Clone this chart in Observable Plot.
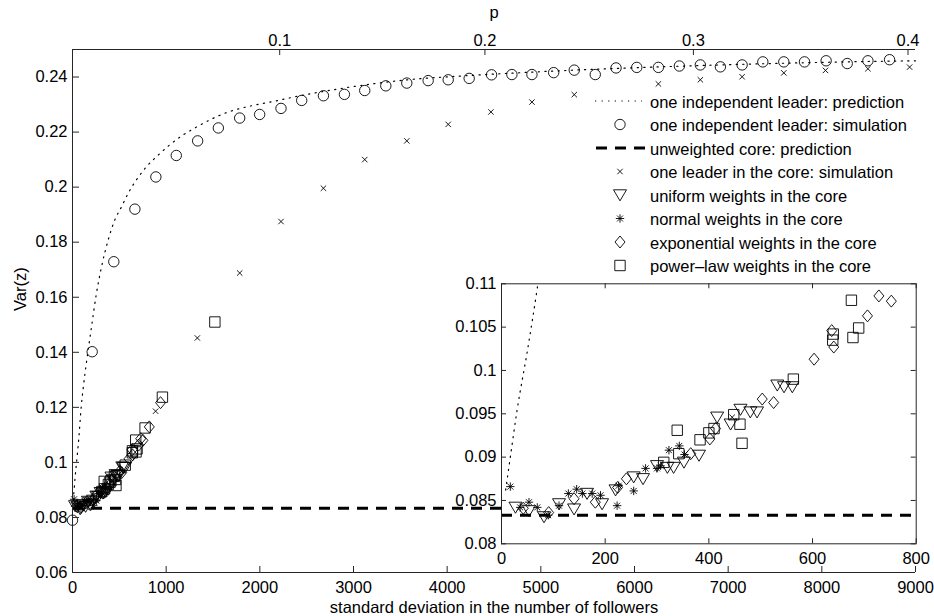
<!DOCTYPE html>
<html><head><meta charset="utf-8">
<script src="https://cdn.jsdelivr.net/npm/d3@7"></script>
<script src="https://cdn.jsdelivr.net/npm/@observablehq/plot@0.6"></script>
<style>
body{margin:0;background:#fff;}
#wrap{position:relative;width:934px;height:616px;overflow:hidden;}
#wrap svg{position:absolute;}
</style></head><body><div id="wrap"></div>
<script>
// ---------------- DATA (x = standard deviation in number of followers, y = Var(z)) ----------------
const indepPrediction = [[8,.0862],[17,.0900],[30,.0954],[50,.1023],[69,.1095],[93,.1202],[114,.1269],[150,.1366],[203,.1493],[256,.1615],[310,.1711],[381,.1808],[452,.1881],[524,.1929],[595,.1978],[684,.2027],[791,.2075],[898,.2111],[1040,.2154],[1183,.2190],[1307,.2215],[1546,.2257],[2223,.2317],[2899,.2360],[3577,.2390],[4218,.2405],[5033,.2420],[6636,.2441],[8421,.2456],[9000,.2459]];
const indepSimulation = [[0,.0790],[210,.1402],[441,.1729],[666,.1920],[890,.2037],[1108,.2115],[1336,.2168],[1557,.2215],[1785,.2251],[1998,.2264],[2226,.2286],[2447,.2315],[2679,.2332],[2903,.2337],[3120,.2351],[3345,.2368],[3569,.2378],[3797,.2387],[4011,.2390],[4235,.2395],[4474,.2408],[4691,.2409],[4905,.2409],[5137,.2416],[5357,.2425],[5581,.2409],[5803,.2433],[6024,.2435],[6255,.2435],[6479,.2440],[6703,.2444],[6917,.2437],[7149,.2444],[7370,.2455],[7594,.2455],[7815,.2455],[8046,.2459],[8271,.2449],[8492,.2459],[8723,.2463]];
const unweightedCorePrediction = 0.0833;
const leaderInCore = [[445,.0946],[887,.1186],[1333,.1452],[1785,.1688],[2226,.1875],[2679,.1996],[3120,.2100],[3569,.2168],[4011,.2228],[4467,.2273],[4905,.2309],[5357,.2336],[6255,.2375],[6703,.2390],[7149,.2401],[7594,.2415],[8039,.2424],[8492,.2430],[8937,.2436]];
const uniformWeights = [[27,.0842],[53,.0838],[82,.0831],[111,.0846],[140,.0840],[165,.0858],[194,.0846],[220,.0862],[255,.0877],[273,.0875],[300,.0890],[320,.0888],[332,.0888],[352,.0894],[381,.0902],[416,.0946],[442,.0938],[461,.0955],[480,.0952],[493,.0952],[532,.0983],[545,.0981],[561,.0981]];
const normalWeights = [[17,.0866],[36,.0842],[53,.0848],[69,.0842],[90,.0833],[111,.0844],[129,.0858],[145,.0863],[156,.0858],[175,.0858],[191,.0856],[223,.0844],[226,.0867],[255,.0861],[278,.0887],[300,.0887],[307,.0890],[323,.0908],[343,.0913],[353,.0903]];
const exponentialWeights = [[42,.0841],[91,.0836],[140,.0852],[181,.0848],[224,.0865],[241,.0875],[365,.0904],[402,.0921],[413,.0933],[503,.0967],[525,.0963],[603,.1013],[637,.1046],[641,.1027],[706,.1063],[728,.1086],[752,.1080],[820,.1129],[940,.1217]];
const powerLawWeights = [[313,.0894],[339,.0931],[342,.0904],[383,.0920],[400,.0928],[410,.0933],[448,.0949],[460,.0938],[464,.0916],[563,.0990],[639,.1035],[640,.1042],[675,.1081],[678,.1038],[689,.1049],[775,.1125],[960,.1237],[1520,.1510]];

// tick labels
const xTicks = [0,1000,2000,3000,4000,5000,6000,7000,8000,9000];
const yTicks = [0.06,0.08,0.1,0.12,0.14,0.16,0.18,0.2,0.22,0.24];
const pTickLabels = ["0.1","0.2","0.3","0.4"];
const pTickPositions = [2212,4403,6629,8920]; // where each p value falls on the std-dev axis
const insetXTicks = [0,200,400,600,800];
const insetYTicks = [0.08,0.085,0.09,0.095,0.1,0.105,0.11];

const legendLabels = ["one independent leader: prediction","one independent leader: simulation","unweighted core: prediction","one leader in the core: simulation","uniform weights in the core","normal weights in the core","exponential weights in the core","power\u2013law weights in the core"];

// ---------------- STYLE ----------------
const FONT = '"Liberation Sans", Arial, Helvetica, sans-serif';
const FS = 16.5;
const AX = "#262626";
const fmt = d => String(+d.toFixed(3));
const xy = {x: d => d[0], y: d => d[1]};

function sym(fn){ return {draw(ctx, size){ fn(ctx, Math.sqrt(size/Math.PI)); }}; }
const symCircle = sym((c,r)=>{c.moveTo(r,0);c.arc(0,0,r,0,2*Math.PI);c.closePath();});
const symTriDown = sym((c,r)=>{c.moveTo(-r,-0.8*r);c.lineTo(r,-0.8*r);c.lineTo(0,0.9*r);c.closePath();});
const symStar = sym((c,r)=>{const d=r*0.7071;c.moveTo(-r,0);c.lineTo(r,0);c.moveTo(0,-r);c.lineTo(0,r);c.moveTo(-d,-d);c.lineTo(d,d);c.moveTo(-d,d);c.lineTo(d,-d);});
const symDiamond = sym((c,r)=>{c.moveTo(0,-1.2*r);c.lineTo(r,0);c.lineTo(0,1.2*r);c.lineTo(-r,0);c.closePath();});
const symSquare = sym((c,r)=>{c.moveTo(-r,-r);c.lineTo(r,-r);c.lineTo(r,r);c.lineTo(-r,r);c.closePath();});
const symCross = sym((c,r)=>{c.moveTo(-r,-r);c.lineTo(r,r);c.moveTo(-r,r);c.lineTo(r,-r);});

const SZ = {circle:5.2, tri:6.5, star:4.2, diamond:5, square:5.2, cross:2.7};
const DOTTED = {stroke:"#000", strokeWidth:1.2, strokeDasharray:"1.2 5.4"};
const DASHED = {stroke:"#000", strokeWidth:3, strokeDasharray:"11 8"};
const MK = {stroke:"#000", fill:"none", strokeWidth:0.9};

function seriesMarks(clip){
  return [
    Plot.dot(indepSimulation, {...xy, symbol:symCircle, r:SZ.circle, ...MK, clip}),
    Plot.dot(leaderInCore, {...xy, symbol:symCross, r:SZ.cross, ...MK, clip}),
    Plot.dot(uniformWeights, {...xy, symbol:symTriDown, r:SZ.tri, ...MK, clip}),
    Plot.dot(normalWeights, {...xy, symbol:symStar, r:SZ.star, ...MK, clip}),
    Plot.dot(exponentialWeights, {...xy, symbol:symDiamond, r:SZ.diamond, ...MK, clip}),
    Plot.dot(powerLawWeights, {...xy, symbol:symSquare, r:SZ.square, ...MK, clip})
  ];
}

// ---------------- MAIN PLOT ----------------
const W = 934, H = 616, mL = 72, mR = 19, mT = 49, mB = 44;
const iW = W - mL - mR, iH = H - mT - mB;
const main = Plot.plot({
  width: W, height: H, marginLeft: mL, marginRight: mR, marginTop: mT, marginBottom: mB,
  style: {fontFamily: FONT, fontSize: FS + "px", background: "white", color: "#000", overflow: "visible"},
  x: {domain: [0, 9000]},
  y: {domain: [0.06, 0.25]},
  marks: [
    Plot.line(indepPrediction, {...xy, ...DOTTED, curve: "monotone-x"}),
    Plot.ruleY([unweightedCorePrediction], {x1: 0, x2: 9000, ...DASHED}),
    ...seriesMarks(false),
    // axes lines (left, bottom, top)
    Plot.ruleX([0], {stroke: AX}),
    Plot.ruleY([0.06], {stroke: AX}),
    Plot.ruleY([0.25], {stroke: AX}),
    // inward ticks
    Plot.tickX(xTicks, {x: d => d, insetTop: iH - 6, stroke: AX}),
    Plot.tickX(pTickPositions, {x: d => d, insetBottom: iH - 6, stroke: AX}),
    Plot.tickY(yTicks, {y: d => d, insetRight: iW - 7, stroke: AX}),
    // tick labels
    Plot.axisX({ticks: xTicks, tickSize: 0, tickPadding: 9, tickFormat: d => String(d), label: null}),
    Plot.axisX({anchor: "top", ticks: pTickPositions, tickSize: 0, tickPadding: 4, tickFormat: d => pTickLabels[pTickPositions.indexOf(d)], label: null}),
    Plot.axisY({ticks: yTicks, tickSize: 0, tickPadding: 5, tickFormat: fmt, label: null}),
    // axis titles
    Plot.text(["p"], {frameAnchor: "top", dy: -37, lineAnchor: "middle", fontSize: FS}),
    Plot.text(["Var(z)"], {frameAnchor: "left", dx: -52, rotate: -90, lineAnchor: "middle", fontSize: FS}),
    Plot.text(["standard deviation in the number of followers"], {frameAnchor: "bottom", dy: 35, lineAnchor: "middle", fontSize: FS})
  ]
});
main.style.left = "0px"; main.style.top = "0px";
document.getElementById("wrap").appendChild(main);

// ---------------- INSET ----------------
const IL = 455, IT = 270, IWd = 475, IHt = 296;
const imL = 46, imR = 14.3, imT = 13.3, imB = 22.7;
const iiW = IWd - imL - imR, iiH = IHt - imT - imB;
const inset = Plot.plot({
  width: IWd, height: IHt, marginLeft: imL, marginRight: imR, marginTop: imT, marginBottom: imB,
  style: {fontFamily: FONT, fontSize: FS + "px", background: "transparent", color: "#000", overflow: "visible"},
  x: {domain: [0, 800]},
  y: {domain: [0.08, 0.11]},
  marks: [
    Plot.frame({fill: "white", stroke: "none"}),
    Plot.line(indepPrediction, {...xy, ...DOTTED, curve: "monotone-x", clip: true}),
    Plot.ruleY([unweightedCorePrediction], {x1: 0, x2: 800, ...DASHED}),
    ...seriesMarks(true),
    Plot.frame({stroke: AX, strokeWidth: 1}),
    Plot.tickX(insetXTicks, {x: d => d, insetTop: iiH - 5, stroke: AX}),
    Plot.tickX(insetXTicks, {x: d => d, insetBottom: iiH - 5, stroke: AX}),
    Plot.tickY(insetYTicks, {y: d => d, insetRight: iiW - 5, stroke: AX}),
    Plot.tickY(insetYTicks, {y: d => d, insetLeft: iiW - 5, stroke: AX}),
    Plot.axisX({ticks: insetXTicks, tickSize: 0, tickPadding: 8, tickFormat: d => String(d), label: null}),
    Plot.axisY({ticks: insetYTicks, tickSize: 0, tickPadding: 5, tickFormat: fmt, label: null})
  ]
});
inset.style.left = IL + "px"; inset.style.top = IT + "px";
document.getElementById("wrap").appendChild(inset);

// ---------------- LEGEND ----------------
const leg = d3.create("svg").attr("width", W).attr("height", H)
  .style("left","0px").style("top","0px").style("pointer-events","none");
const legSymbols = [null, [symCircle,SZ.circle], null, [symCross,SZ.cross], [symTriDown,SZ.tri], [symStar,SZ.star], [symDiamond,SZ.diamond], [symSquare,SZ.square]];
legendLabels.forEach((lab, i) => {
  const yy = 101 + i * 23.5;
  if (i === 0) {
    leg.append("line").attr("x1",595).attr("x2",642).attr("y1",yy).attr("y2",yy)
      .attr("stroke","#000").attr("stroke-width",1.2).attr("stroke-dasharray","1.2 5.4");
  } else if (i === 2) {
    leg.append("line").attr("x1",596).attr("x2",645).attr("y1",yy).attr("y2",yy)
      .attr("stroke","#000").attr("stroke-width",3).attr("stroke-dasharray","11 8");
  } else {
    const [s, r] = legSymbols[i];
    const p = d3.path(); s.draw(p, r * r * Math.PI);
    leg.append("path").attr("d", p.toString()).attr("transform", `translate(620,${yy})`)
      .attr("fill","none").attr("stroke","#000").attr("stroke-width",0.9);
  }
  leg.append("text").attr("x",650).attr("y",yy + 6.5).text(lab)
    .attr("font-family", FONT).attr("font-size", FS).attr("fill","#000");
});
document.getElementById("wrap").appendChild(leg.node());
</script>
</body></html>
